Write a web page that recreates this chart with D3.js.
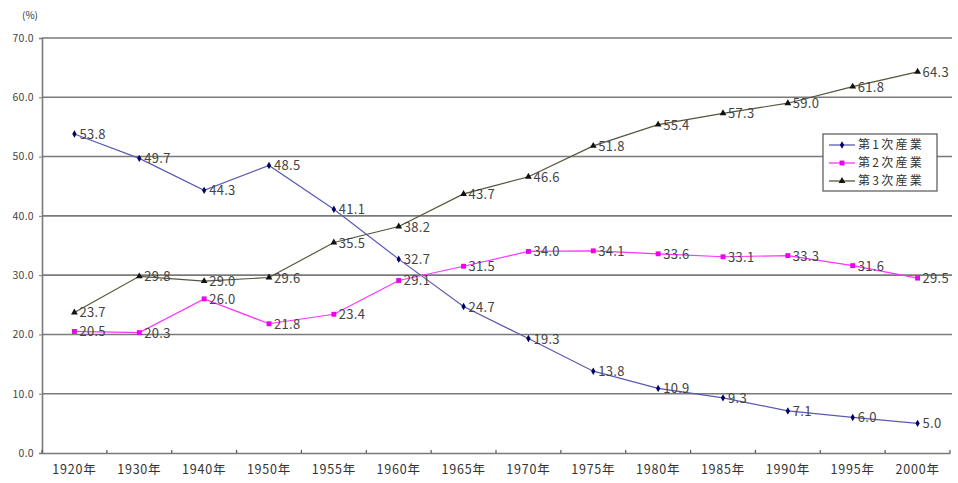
<!DOCTYPE html>
<html><head><meta charset="utf-8">
<script src="https://cdn.jsdelivr.net/npm/d3@7"></script>
<style>
body{margin:0;background:#fff;}
text{font-family:"Noto Sans CJK JP","Liberation Sans",sans-serif;}
</style></head>
<body>
<svg id="c" width="958" height="483"></svg>
<script>
const categories = ["1920年","1930年","1940年","1950年","1955年","1960年","1965年","1970年","1975年","1980年","1985年","1990年","1995年","2000年"];
const primary   = [53.8,49.7,44.3,48.5,41.1,32.7,24.7,19.3,13.8,10.9,9.3,7.1,6.0,5.0];
const secondary = [20.5,20.3,26.0,21.8,23.4,29.1,31.5,34.0,34.1,33.6,33.1,33.3,31.6,29.5];
const tertiary  = [23.7,29.8,29.0,29.6,35.5,38.2,43.7,46.6,51.8,55.4,57.3,59.0,61.8,64.3];
const seriesNames = ["第1次産業","第2次産業","第3次産業"];
const yTicks = [0,10,20,30,40,50,60,70];

const svg = d3.select("#c");
const L=42, R=950, T=38, B=453;
const x = d3.scaleBand().domain(categories).range([L,R]);
const y = d3.scaleLinear().domain([0,70]).range([B,T]);

// gridlines
svg.append("g").selectAll("line").data(yTicks.filter(d=>d>0)).join("line")
  .attr("x1",L).attr("x2",R+2).attr("y1",d=>y(d)).attr("y2",d=>y(d))
  .attr("stroke","#7a7a7a").attr("stroke-width",1.6);

// y axis
const ya = svg.append("g").attr("transform",`translate(${L},0)`)
  .call(d3.axisLeft(y).tickValues(yTicks).tickFormat(d3.format(".1f")).tickSize(3));
ya.select(".domain").attr("stroke","#7a7a7a").attr("stroke-width",1.6);
ya.selectAll(".tick line").attr("stroke","#7a7a7a");
ya.selectAll("text").attr("font-size",10.5).attr("fill","#444").attr("x",-8).attr("letter-spacing",0.3);

// x axis
const xa = svg.append("g").attr("transform",`translate(0,${B})`)
  .call(d3.axisBottom(x).tickSize(0).tickPadding(12));
xa.select(".domain").attr("stroke","#7a7a7a").attr("stroke-width",1.6);
xa.selectAll("text").attr("font-size",12.5).attr("fill","#333").attr("letter-spacing",0.8);
svg.append("g").selectAll("line").data(d3.range(categories.length+1)).join("line")
  .attr("x1",i=>L+i*x.step()).attr("x2",i=>L+i*x.step())
  .attr("y1",B).attr("y2",B-3).attr("stroke","#555").attr("stroke-width",1.2);

svg.append("text").attr("x",30).attr("y",19).attr("font-size",10).attr("fill","#333").attr("text-anchor","middle").text("(%)");

const cx = c => x(c)+x.bandwidth()/2;
const series = [
  {name:seriesNames[0], vals:primary,   line:"#5a5ab4", mark:"#000060", sym:d3.symbolDiamond, size:16},
  {name:seriesNames[1], vals:secondary, line:"#ff33ff", mark:"#ee00ee", sym:d3.symbolSquare, size:24},
  {name:seriesNames[2], vals:tertiary,  line:"#55553c", mark:"#111111", sym:d3.symbolTriangle, size:20}
];
const line = d3.line().x((d,i)=>cx(categories[i])).y(d=>y(d));
series.forEach(s=>{
  svg.append("path").datum(s.vals).attr("d",line).attr("fill","none")
    .attr("stroke",s.line).attr("stroke-width",1.2);
});
series.forEach(s=>{
  svg.append("g").selectAll("path").data(s.vals).join("path")
    .attr("d",d3.symbol().type(s.sym).size(s.size))
    .attr("transform",(d,i)=>`translate(${cx(categories[i])},${y(d)})`)
    .attr("fill",s.mark);
  svg.append("g").selectAll("text").data(s.vals).join("text")
    .attr("x",(d,i)=>cx(categories[i])+5).attr("y",d=>y(d)+5)
    .attr("font-size",13).attr("fill","#444").attr("letter-spacing",0.3).text(d=>d.toFixed(1));
});

// legend
const lg = svg.append("g").attr("transform","translate(823,134)");
lg.append("rect").attr("width",114).attr("height",57).attr("fill","#fff").attr("stroke","#555").attr("stroke-width",1.2);
series.forEach((s,i)=>{
  const yy = 11+i*18;
  lg.append("line").attr("x1",6).attr("x2",32).attr("y1",yy).attr("y2",yy).attr("stroke",s.line).attr("stroke-width",1.3);
  lg.append("path").attr("d",d3.symbol().type(s.sym).size(s.size)).attr("transform",`translate(19,${yy})`).attr("fill",s.mark);
  lg.append("text").attr("x",35).attr("y",yy+4).attr("font-size",12).attr("fill","#333").attr("letter-spacing",2.3).text(s.name);
});
</script>
</body></html>
